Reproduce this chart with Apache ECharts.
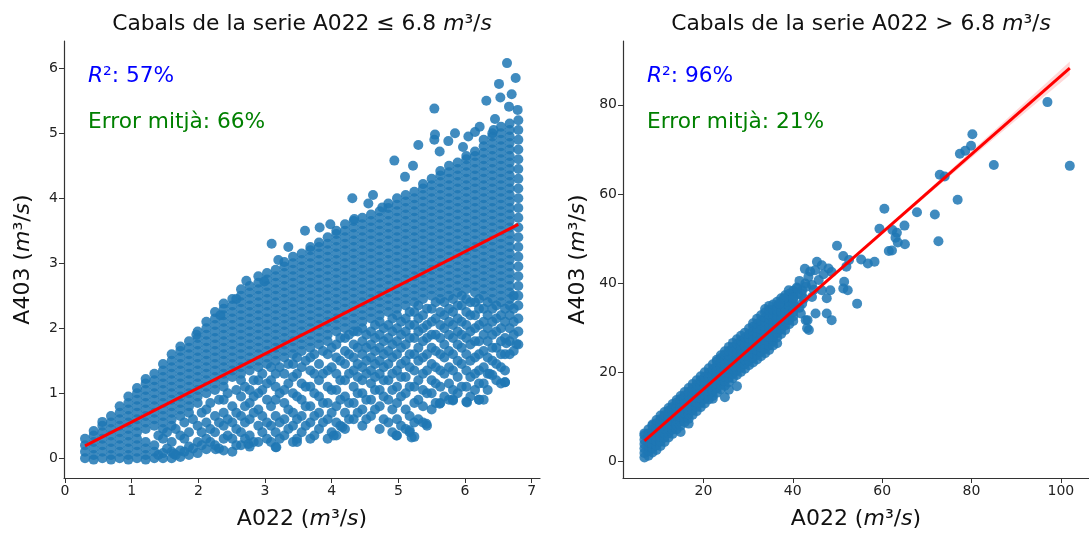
<!DOCTYPE html>
<html>
<head>
<meta charset="utf-8">
<script src="https://cdn.jsdelivr.net/npm/echarts@6/dist/echarts.min.js"></script>
<style>html,body{margin:0;padding:0;background:#fff;}</style>
</head>
<body>
<div id="main" style="width:1089px;height:535px;"></div>
<script>
// ---- dades: panell esquerre (A022 <= 6.8), punts llegits per columnes
var leftColX = [0.30, 0.43, 0.56, 0.69, 0.82, 0.95, 1.08, 1.21, 1.34, 1.47, 1.60, 1.73, 1.86, 1.99, 2.12, 2.25, 2.38, 2.51, 2.64, 2.77,
  2.90, 3.03, 3.16, 3.29, 3.42, 3.55, 3.68, 3.81, 3.94, 4.07, 4.20, 4.33, 4.46, 4.59, 4.72, 4.85, 4.98, 5.11, 5.24, 5.37,
  5.50, 5.63, 5.76, 5.89, 6.02, 6.15, 6.28, 6.41, 6.54, 6.67, 6.80];
var leftColY = [
  [0.0, 0.1, 0.2, 0.3],
  [-0.02, 0.05, 0.15, 0.25, 0.35, 0.42],
  [0.0, 0.1, 0.2, 0.3, 0.4, 0.5, 0.56],
  [-0.02, 0.05, 0.15, 0.25, 0.35, 0.45, 0.55, 0.65],
  [0.0, 0.1, 0.2, 0.3, 0.4, 0.5, 0.6, 0.7, 0.8],
  [-0.02, 0.05, 0.15, 0.25, 0.35, 0.45, 0.55, 0.65, 0.75, 0.85, 0.95],
  [0.0, 0.1, 0.2, 0.3, 0.4, 0.5, 0.6, 0.7, 0.8, 0.9, 1.0, 1.08],
  [-0.02, 0.05, 0.15, 0.25, 0.45, 0.55, 0.65, 0.75, 0.85, 0.95, 1.05, 1.15, 1.22],
  [0.0, 0.1, 0.2, 0.5, 0.6, 0.7, 0.8, 0.9, 1.0, 1.1, 1.2, 1.3],
  [0.0, 0.08, 0.3, 0.45, 0.55, 0.65, 0.75, 0.85, 0.95, 1.05, 1.15, 1.25, 1.35, 1.45],
  [0.0, 0.1, 0.25, 0.5, 0.6, 0.7, 0.8, 0.9, 1.0, 1.1, 1.2, 1.3, 1.4, 1.5, 1.6],
  [0.02, 0.12, 0.35, 0.65, 0.75, 0.85, 0.95, 1.05, 1.15, 1.25, 1.35, 1.45, 1.55, 1.65, 1.72],
  [0.05, 0.18, 0.4, 0.7, 0.8, 0.9, 1.0, 1.1, 1.2, 1.3, 1.4, 1.5, 1.6, 1.7, 1.8],
  [0.08, 0.25, 0.5, 0.85, 0.95, 1.05, 1.15, 1.25, 1.35, 1.45, 1.55, 1.65, 1.75, 1.85, 1.95],
  [0.14, 0.3, 0.55, 0.75, 1.0, 1.1, 1.2, 1.3, 1.4, 1.5, 1.6, 1.7, 1.8, 1.9, 2.0, 2.1],
  [0.2, 0.4, 0.65, 1.05, 1.15, 1.25, 1.35, 1.45, 1.55, 1.65, 1.75, 1.85, 1.95, 2.05, 2.15, 2.25],
  [0.12, 0.3, 0.5, 0.7, 0.9, 1.1, 1.2, 1.3, 1.4, 1.5, 1.6, 1.7, 1.8, 1.9, 2.0, 2.1, 2.2, 2.3, 2.38],
  [0.1, 0.3, 0.55, 0.8, 1.25, 1.35, 1.45, 1.55, 1.65, 1.75, 1.85, 1.95, 2.05, 2.15, 2.25, 2.35, 2.45],
  [0.2, 0.4, 0.65, 0.95, 1.2, 1.3, 1.4, 1.5, 1.6, 1.7, 1.8, 1.9, 2.0, 2.1, 2.2, 2.3, 2.4, 2.5, 2.6],
  [0.18, 0.35, 0.6, 0.85, 1.05, 1.35, 1.45, 1.55, 1.65, 1.75, 1.85, 1.95, 2.05, 2.15, 2.25, 2.35, 2.45, 2.55, 2.65],
  [0.25, 0.5, 0.75, 1.0, 1.2, 1.4, 1.5, 1.6, 1.7, 1.8, 1.9, 2.0, 2.1, 2.2, 2.3, 2.4, 2.5, 2.6, 2.7, 2.8],
  [0.3, 0.55, 0.9, 1.15, 1.45, 1.55, 1.65, 1.75, 1.85, 1.95, 2.05, 2.15, 2.25, 2.35, 2.45, 2.55, 2.65, 2.75, 2.85],
  [0.17, 0.4, 0.65, 0.9, 1.1, 1.3, 1.5, 1.6, 1.7, 1.8, 1.9, 2.0, 2.1, 2.2, 2.3, 2.4, 2.5, 2.6, 2.7, 2.8, 2.9],
  [0.35, 0.6, 0.85, 1.05, 1.3, 1.55, 1.65, 1.75, 1.85, 1.95, 2.05, 2.15, 2.25, 2.35, 2.45, 2.55, 2.65, 2.75, 2.85, 2.95, 3.02],
  [0.25, 0.5, 0.7, 1.0, 1.25, 1.45, 1.6, 1.7, 1.8, 1.9, 2.0, 2.1, 2.2, 2.3, 2.4, 2.5, 2.6, 2.7, 2.8, 2.9, 3.0, 3.1],
  [0.4, 0.65, 0.9, 1.15, 1.4, 1.65, 1.75, 1.85, 1.95, 2.05, 2.15, 2.25, 2.35, 2.45, 2.55, 2.65, 2.75, 2.85, 2.95, 3.05, 3.15],
  [0.3, 0.55, 0.8, 1.1, 1.35, 1.55, 1.7, 1.8, 1.9, 2.0, 2.1, 2.2, 2.3, 2.4, 2.5, 2.6, 2.7, 2.8, 2.9, 3.0, 3.1, 3.2, 3.25],
  [0.45, 0.7, 0.95, 1.2, 1.45, 1.75, 1.85, 1.95, 2.05, 2.15, 2.25, 2.35, 2.45, 2.55, 2.65, 2.75, 2.85, 2.95, 3.05, 3.15, 3.25, 3.32],
  [0.3, 0.6, 0.85, 1.1, 1.35, 1.6, 1.8, 1.9, 2.0, 2.1, 2.2, 2.3, 2.4, 2.5, 2.6, 2.7, 2.8, 2.9, 3.0, 3.1, 3.2, 3.3, 3.4],
  [0.35, 0.55, 0.8, 1.05, 1.3, 1.55, 1.75, 1.95, 2.05, 2.15, 2.25, 2.35, 2.45, 2.55, 2.65, 2.75, 2.85, 2.95, 3.05, 3.15, 3.25, 3.35, 3.45, 3.5],
  [0.45, 0.7, 0.95, 1.2, 1.45, 1.65, 1.85, 2.0, 2.1, 2.2, 2.3, 2.4, 2.5, 2.6, 2.7, 2.8, 2.9, 3.0, 3.1, 3.2, 3.3, 3.4, 3.5, 3.6],
  [0.6, 0.85, 1.1, 1.35, 1.55, 1.75, 1.95, 2.05, 2.15, 2.25, 2.35, 2.45, 2.55, 2.65, 2.75, 2.85, 2.95, 3.05, 3.15, 3.25, 3.35, 3.45, 3.55, 3.65],
  [0.5, 0.75, 1.0, 1.2, 1.4, 1.6, 1.8, 2.0, 2.1, 2.2, 2.3, 2.4, 2.5, 2.6, 2.7, 2.8, 2.9, 3.0, 3.1, 3.2, 3.3, 3.4, 3.5, 3.6, 3.7],
  [0.65, 0.9, 1.15, 1.35, 1.55, 1.75, 1.95, 2.15, 2.25, 2.35, 2.45, 2.55, 2.65, 2.75, 2.85, 2.95, 3.05, 3.15, 3.25, 3.35, 3.45, 3.55, 3.65, 3.75],
  [0.45, 0.8, 1.05, 1.3, 1.5, 1.7, 1.9, 2.1, 2.2, 2.3, 2.4, 2.5, 2.6, 2.7, 2.8, 2.9, 3.0, 3.1, 3.2, 3.3, 3.4, 3.5, 3.6, 3.7, 3.8],
  [0.55, 0.9, 1.2, 1.45, 1.65, 1.85, 2.05, 2.25, 2.35, 2.45, 2.55, 2.65, 2.75, 2.85, 2.95, 3.05, 3.15, 3.25, 3.35, 3.45, 3.55, 3.65, 3.75, 3.85, 3.92],
  [0.35, 0.6, 0.85, 1.1, 1.35, 1.6, 1.8, 2.0, 2.2, 2.3, 2.4, 2.5, 2.6, 2.7, 2.8, 2.9, 3.0, 3.1, 3.2, 3.3, 3.4, 3.5, 3.6, 3.7, 3.8, 3.9, 4.0],
  [0.45, 0.75, 1.0, 1.25, 1.5, 1.75, 1.95, 2.15, 2.35, 2.45, 2.55, 2.65, 2.75, 2.85, 2.95, 3.05, 3.15, 3.25, 3.35, 3.45, 3.55, 3.65, 3.75, 3.85, 3.95, 4.05],
  [0.33, 0.55, 0.85, 1.1, 1.35, 1.6, 1.85, 2.05, 2.25, 2.4, 2.5, 2.6, 2.7, 2.8, 2.9, 3.0, 3.1, 3.2, 3.3, 3.4, 3.5, 3.6, 3.7, 3.8, 3.9, 4.0, 4.1],
  [0.55, 0.8, 1.05, 1.3, 1.55, 1.8, 2.0, 2.2, 2.45, 2.55, 2.65, 2.75, 2.85, 2.95, 3.05, 3.15, 3.25, 3.35, 3.45, 3.55, 3.65, 3.75, 3.85, 3.95, 4.05, 4.15, 4.22],
  [0.75, 1.0, 1.2, 1.45, 1.7, 1.9, 2.1, 2.3, 2.5, 2.6, 2.7, 2.8, 2.9, 3.0, 3.1, 3.2, 3.3, 3.4, 3.5, 3.6, 3.7, 3.8, 3.9, 4.0, 4.1, 4.2, 4.3],
  [0.85, 1.1, 1.35, 1.6, 1.85, 2.05, 2.25, 2.45, 2.55, 2.65, 2.75, 2.85, 2.95, 3.05, 3.15, 3.25, 3.35, 3.45, 3.55, 3.65, 3.75, 3.85, 3.95, 4.05, 4.15, 4.25, 4.35, 4.42],
  [0.9, 1.15, 1.4, 1.65, 1.9, 2.1, 2.3, 2.5, 2.6, 2.7, 2.8, 2.9, 3.0, 3.1, 3.2, 3.3, 3.4, 3.5, 3.6, 3.7, 3.8, 3.9, 4.0, 4.1, 4.2, 4.3, 4.4, 4.5],
  [1.0, 1.25, 1.5, 1.75, 1.95, 2.15, 2.35, 2.55, 2.65, 2.75, 2.85, 2.95, 3.05, 3.15, 3.25, 3.35, 3.45, 3.55, 3.65, 3.75, 3.85, 3.95, 4.05, 4.15, 4.25, 4.35, 4.45, 4.55],
  [0.87, 1.1, 1.35, 1.6, 1.85, 2.05, 2.25, 2.45, 2.6, 2.7, 2.8, 2.9, 3.0, 3.1, 3.2, 3.3, 3.4, 3.5, 3.6, 3.7, 3.8, 3.9, 4.0, 4.1, 4.2, 4.3, 4.4, 4.5, 4.6, 4.65],
  [1.05, 1.3, 1.55, 1.8, 2.0, 2.2, 2.4, 2.55, 2.65, 2.75, 2.85, 2.95, 3.05, 3.15, 3.25, 3.35, 3.45, 3.55, 3.65, 3.75, 3.85, 3.95, 4.05, 4.15, 4.25, 4.35, 4.45, 4.55, 4.65, 4.72],
  [0.9, 1.15, 1.4, 1.65, 1.9, 2.1, 2.3, 2.5, 2.6, 2.7, 2.8, 2.9, 3.0, 3.1, 3.2, 3.3, 3.4, 3.5, 3.6, 3.7, 3.8, 3.9, 4.0, 4.1, 4.2, 4.3, 4.4, 4.5, 4.6, 4.7, 4.8, 4.9],
  [1.28, 1.5, 1.7, 1.9, 2.1, 2.3, 2.45, 2.55, 2.65, 2.75, 2.85, 2.95, 3.05, 3.15, 3.25, 3.35, 3.45, 3.55, 3.65, 3.75, 3.85, 3.95, 4.05, 4.15, 4.25, 4.35, 4.45, 4.55, 4.65, 4.75, 4.85, 4.95, 5.0],
  [1.15, 1.4, 1.6, 1.8, 2.0, 2.2, 2.4, 2.5, 2.6, 2.7, 2.8, 2.9, 3.0, 3.1, 3.2, 3.3, 3.4, 3.5, 3.6, 3.7, 3.8, 3.9, 4.0, 4.1, 4.2, 4.3, 4.4, 4.5, 4.6, 4.7, 4.8, 4.9, 5.0, 5.1],
  [1.6, 1.8, 2.0, 2.2, 2.35, 2.45, 2.55, 2.65, 2.75, 2.85, 2.95, 3.05, 3.15, 3.25, 3.35, 3.45, 3.55, 3.65, 3.75, 3.85, 3.95, 4.05, 4.15, 4.25, 4.35, 4.45, 4.55, 4.65, 4.75, 4.85, 4.95, 5.05, 5.15],
  [1.75, 1.95, 2.15, 2.35, 2.5, 2.65, 2.8, 2.95, 3.1, 3.25, 3.4, 3.55, 3.7, 3.85, 4.0, 4.15, 4.3, 4.45, 4.6, 4.75, 4.9, 5.05, 5.2]
];
// columnes intermèdies de la part baixa del núvol (sota la recta)
var leftMidX = [1.40, 1.53, 1.66, 1.79, 1.92, 2.05, 2.18, 2.31, 2.44, 2.57, 2.70, 2.83, 2.96, 3.09, 3.22, 3.35, 3.48, 3.61, 3.74, 3.87,
  4.00, 4.13, 4.26, 4.39, 4.52, 4.65, 4.78, 4.91, 5.04, 5.17, 5.30, 5.43, 5.56, 5.69, 5.82, 5.95, 6.08, 6.21, 6.34, 6.47,
  6.60, 6.73];
var leftMidY = [
  [0.05, 0.35], [0.15, 0.4], [0.05, 0.45], [0.1, 0.3, 0.55], [0.15, 0.6], [0.2, 0.4, 0.7], [0.25, 0.45, 0.85],
  [0.15, 0.55, 0.9], [0.35, 0.6, 1.0], [0.2, 0.45, 0.7, 1.05], [0.3, 0.55, 0.8, 1.1], [0.25, 0.7, 0.95, 1.2],
  [0.4, 0.65, 1.05, 1.3], [0.25, 0.5, 0.8, 1.2, 1.4], [0.3, 0.55, 1.0, 1.4], [0.45, 0.75, 1.15, 1.45],
  [0.3, 0.6, 0.95, 1.3, 1.55], [0.5, 0.8, 1.1, 1.5], [0.35, 0.65, 1.0, 1.3, 1.6], [0.55, 0.85, 1.3, 1.65],
  [0.4, 0.7, 1.05, 1.4, 1.7], [0.5, 0.9, 1.2, 1.5, 1.85], [0.6, 0.85, 1.3, 1.6, 1.9], [0.7, 1.0, 1.25, 1.45, 1.7, 1.95],
  [0.6, 0.9, 1.3, 1.5, 1.7, 1.9], [0.75, 1.05, 1.25, 1.45, 1.65, 1.85, 2.05], [0.6, 0.95, 1.2, 1.4, 1.6, 1.8, 2.0],
  [0.4, 0.75, 1.05, 1.3, 1.55, 1.75, 1.95, 2.15], [0.5, 0.95, 1.25, 1.45, 1.7, 1.9, 2.1],
  [0.4, 0.65, 1.1, 1.4, 1.6, 1.85, 2.05, 2.25], [0.6, 0.9, 1.2, 1.5, 1.7, 1.95, 2.15, 2.35],
  [0.5, 1.0, 1.35, 1.6, 1.85, 2.05, 2.3], [0.85, 1.15, 1.4, 1.65, 1.9, 2.15, 2.4], [0.95, 1.3, 1.55, 1.75, 2.0, 2.2, 2.4],
  [0.9, 1.05, 1.35, 1.6, 1.85, 2.05, 2.25, 2.45], [1.1, 1.45, 1.7, 1.9, 2.1, 2.35, 2.5], [0.95, 1.25, 1.5, 1.75, 1.95, 2.2, 2.4],
  [0.9, 1.15, 1.35, 1.6, 1.8, 2.05, 2.3, 2.45], [1.05, 1.3, 1.55, 1.8, 2.0, 2.2, 2.4], [1.2, 1.45, 1.7, 1.95, 2.15, 2.35],
  [1.17, 1.35, 1.6, 1.85, 2.1, 2.3], [1.65, 1.9, 2.1, 2.3, 2.5]
];
// punts aïllats (vores del núvol)
var leftOutX = [6.63, 6.76, 6.51, 5.54, 6.32, 6.53, 6.79, 6.66, 5.54, 5.75, 6.22, 6.43, 4.94, 4.31, 4.55, 4.76, 3.82, 3.98, 4.34, 3.35,
  3.2, 2.57, 2.33, 2.99, 1.97, 5.3, 5.55, 5.62, 5.97, 6.45, 6.05, 3.6, 3.1, 2.72, 5.1, 5.22, 4.62, 6.7, 6.15, 5.85,
  6.21, 6.03, 6.6, 6.37, 5.82, 5.62, 5.42, 5.17, 5.2, 4.97, 4.03, 4.16, 3.48, 3.17, 2.75, 2.26, 1.63, 6.77, 6.62];
var leftOutY = [6.08, 5.85, 5.76, 5.38, 5.5, 5.55, 5.36, 5.41, 4.9, 4.88, 5.1, 5.05, 4.58, 4.0, 3.92, 3.86, 3.55, 3.6, 3.68, 3.25,
  3.05, 2.45, 2.2, 2.72, 1.9, 4.82, 4.98, 4.72, 4.79, 5.22, 4.95, 3.5, 3.3, 2.73, 4.33, 4.5, 4.05, 5.6, 5.02, 5.0,
  0.9, 0.86, 1.17, 1.3, 0.89, 0.84, 0.53, 0.43, 0.32, 0.35, 0.35, 0.48, 0.25, 0.17, 0.22, 0.14, 0.07, 1.76, 1.77];
var leftRegX = [0.3, 6.8];
var leftRegY = [0.19, 3.6];

// ---- dades: panell dret (A022 > 6.8)
var rightColX = [6.8, 7.7, 8.6, 9.5, 10.4, 11.3, 12.2, 13.1, 14.0, 14.9, 15.8, 16.7, 17.6, 18.5, 19.4, 20.3, 21.2, 22.1, 23.0, 23.9,
  24.8, 25.7, 26.6, 27.5, 28.4, 29.3, 30.2, 31.1, 32.0, 32.9, 33.8, 34.7, 35.6, 36.5, 37.4, 38.3, 39.2, 40.1];
var rightColY = [
  [0.9, 1.9, 2.9, 3.9, 4.9, 5.9, 6.3],
  [1.3, 2.3, 3.3, 4.3, 5.3, 6.3, 7.2],
  [2.0, 3.0, 4.0, 5.0, 6.0, 7.0, 8.0, 8.3],
  [2.6, 3.6, 4.6, 5.6, 6.6, 7.6, 8.6, 9.3],
  [3.5, 4.5, 5.5, 6.5, 7.5, 8.5, 9.5, 10.3],
  [4.4, 5.4, 6.4, 7.4, 8.4, 9.4, 10.4, 11.1],
  [5.4, 6.4, 7.4, 8.4, 9.4, 10.4, 11.4, 12.0],
  [6.2, 7.2, 8.2, 9.2, 10.2, 11.2, 12.2, 12.9],
  [7.2, 8.2, 9.2, 10.2, 11.2, 12.2, 13.2, 13.8],
  [6.6, 8.0, 9.0, 10.0, 11.0, 12.0, 13.0, 14.0, 14.7],
  [8.8, 9.8, 10.8, 11.8, 12.8, 13.8, 14.8, 15.6],
  [8.5, 9.6, 10.6, 11.6, 12.6, 13.6, 14.6, 15.6, 16.5],
  [10.5, 11.5, 12.5, 13.5, 14.5, 15.5, 16.5, 17.4],
  [11.3, 12.3, 13.3, 14.3, 15.3, 16.3, 17.3, 18.2],
  [12.2, 13.2, 14.2, 15.2, 16.2, 17.2, 18.2, 19.1],
  [13.0, 14.0, 15.0, 16.0, 17.0, 18.0, 19.0, 20.0],
  [13.9, 14.9, 15.9, 16.9, 17.9, 18.9, 19.9, 20.9],
  [14.1, 14.7, 15.7, 16.7, 17.7, 18.7, 19.7, 20.7, 21.8],
  [15.4, 16.4, 17.4, 18.4, 19.4, 20.4, 21.4, 22.4, 22.8],
  [16.2, 17.2, 18.2, 19.2, 20.2, 21.2, 22.2, 23.2, 23.8],
  [14.4, 17.0, 18.0, 19.0, 20.0, 21.0, 22.0, 23.0, 24.0, 24.7],
  [16.1, 17.8, 18.8, 19.8, 20.8, 21.8, 22.8, 23.8, 24.8, 25.7],
  [18.7, 19.7, 20.7, 21.7, 22.7, 23.7, 24.7, 25.7, 26.6],
  [16.9, 19.4, 20.4, 21.4, 22.4, 23.4, 24.4, 25.4, 26.4, 27.4],
  [20.1, 21.1, 22.1, 23.1, 24.1, 25.1, 26.1, 27.1, 28.2],
  [20.8, 21.8, 22.8, 23.8, 24.8, 25.8, 26.8, 27.8, 28.9],
  [21.6, 22.6, 23.6, 24.6, 25.6, 26.6, 27.6, 28.6, 29.8],
  [22.2, 23.2, 24.2, 25.2, 26.2, 27.2, 28.2, 29.2, 30.2, 31.0],
  [22.9, 23.9, 24.9, 25.9, 26.9, 27.9, 28.9, 29.9, 30.9, 32.0],
  [23.6, 24.6, 25.6, 26.6, 27.6, 28.6, 29.6, 30.6, 31.6, 32.8],
  [24.3, 25.3, 26.3, 27.3, 28.3, 29.3, 30.3, 31.3, 32.3, 33.4, 34.2],
  [25.0, 26.0, 27.0, 28.0, 29.0, 30.0, 31.0, 32.0, 33.0, 34.0, 34.9],
  [26.0, 27.0, 28.0, 29.0, 30.0, 31.0, 32.0, 33.0, 34.0, 35.2],
  [26.5, 27.8, 28.8, 29.8, 30.8, 31.8, 32.8, 33.8, 34.8, 35.8],
  [28.6, 29.6, 30.6, 31.6, 32.6, 33.6, 34.6, 35.6, 36.6],
  [29.5, 30.5, 31.5, 32.5, 33.5, 34.5, 35.5, 36.5, 37.3],
  [30.8, 31.8, 32.8, 33.8, 34.8, 35.8, 36.8, 37.6],
  [31.5, 32.5, 33.5, 34.5, 35.5, 36.5, 37.5, 38.3]
];
var rightOutX = [97.0, 102.0, 80.2, 79.9, 78.6, 77.4, 85.0, 72.9, 74.0, 76.9, 60.5, 67.8, 71.8, 72.6, 59.4, 62.3, 63.3, 65.0, 63.0, 63.5,
  65.1, 61.5, 62.2, 49.9, 51.3, 52.6, 55.3, 56.8, 58.3, 52.0, 54.4, 51.5, 52.3, 51.3, 48.7, 47.6, 45.1, 43.3, 41.8, 46.5,
  45.0, 43.5, 42.8, 48.0, 48.7, 45.8, 44.3, 42.1, 44.3, 47.6, 48.4, 46.5, 39.1, 38.0, 37.0, 40.6, 42.1, 45.4, 41.2, 42.5,
  40.2, 40.9, 42.7, 43.9, 46.9, 44.7, 41.5, 42.9, 43.2, 43.6, 41.5, 42.0, 41.0, 43.0];
var rightOutY = [80.6, 66.3, 73.4, 70.8, 69.7, 69.0, 66.5, 64.3, 63.9, 58.7, 56.7, 55.9, 55.4, 49.4, 52.2, 51.9, 51.3, 52.9, 50.2, 49.1,
  48.7, 47.2, 47.3, 48.4, 46.1, 45.2, 45.3, 44.4, 44.8, 43.7, 35.4, 40.3, 38.4, 38.8, 31.7, 33.2, 33.2, 31.7, 33.2, 44.0,
  42.9, 41.4, 39.9, 43.3, 42.5, 40.7, 39.6, 38.4, 36.9, 36.6, 38.4, 38.4, 38.4, 36.6, 35.4, 34.7, 35.4, 44.8, 37.5, 36.5,
  36.8, 39.0, 43.2, 42.6, 42.0, 38.5, 40.5, 31.7, 29.9, 29.5, 34.5, 37.5, 38.8, 39.2];
var rightRegX = [6.8, 102.0];
var rightRegY = [4.6, 88.2];
// interval de confiança de la recta (només visible a l'extrem superior)
var rightCiX = [55, 70, 85, 102.0];
var rightCiLo = [46.7, 59.6, 72.4, 86.7];
var rightCiHi = [47.1, 60.6, 74.2, 89.7];

var leftXTicks = [0, 1, 2, 3, 4, 5, 6, 7];
var leftYTicks = [0, 1, 2, 3, 4, 5, 6];
var rightXTicks = [20, 40, 60, 80, 100];
var rightYTicks = [0, 20, 40, 60, 80];

var titles = ['Cabals de la serie A022 ≤ 6.8 ', 'Cabals de la serie A022 > 6.8 '];
var r2Text = ['57%', '96%'];
var errText = ['66%', '21%'];

// ---- construcció
function colsToPoints(colX, colY, pts) {
  for (var i = 0; i < colX.length; i++) {
    for (var j = 0; j < colY[i].length; j++) pts.push([colX[i], colY[i][j]]);
  }
  return pts;
}
function pairs(xs, ys) {
  return xs.map(function (x, i) { return [x, ys[i]]; });
}

var leftPts = colsToPoints(leftMidX, leftMidY, colsToPoints(leftColX, leftColY, [])).concat(pairs(leftOutX, leftOutY));
var rightPts = colsToPoints(rightColX, rightColY, []).concat(pairs(rightOutX, rightOutY));

var FONT = 'DejaVu Sans';
var AXIS_COLOR = '#333';

function valueAxis(grid, min, max, ticks, name, gap) {
  return {
    type: 'value', gridIndex: grid, min: min, max: max,
    name: name, nameLocation: 'middle', nameGap: gap,
    nameTextStyle: { fontFamily: FONT, fontSize: 22, color: '#111',
      rich: {
        n: { fontFamily: FONT, fontSize: 22, color: '#111' },
        i: { fontFamily: FONT, fontSize: 22, fontStyle: 'italic', color: '#111' }
      } },
    axisLine: { show: true, onZero: false, lineStyle: { color: AXIS_COLOR, width: 1.2 } },
    axisTick: { show: true, customValues: ticks, length: 5, lineStyle: { color: AXIS_COLOR, width: 1 } },
    axisLabel: { customValues: ticks, fontFamily: FONT, fontSize: 14, color: '#222', margin: 6 },
    splitLine: { show: false }
  };
}

var chart = echarts.init(document.getElementById('main'), null, { renderer: 'canvas' });

var xlabel = '{n|A022 (}{i|m}{n|³/}{i|s}{n|)}';
var ylabel = '{n|A403 (}{i|m}{n|³/}{i|s}{n|)}';

function titleText(i, cx) {
  return {
    type: 'text', x: cx, y: 24,
    style: {
      text: '{t|' + titles[i] + '}{i|m}{t|³/}{i|s}',
      align: 'center', verticalAlign: 'middle',
      rich: {
        t: { fontFamily: FONT, fontSize: 21.8, fill: '#111' },
        i: { fontFamily: FONT, fontSize: 21.8, fontStyle: 'italic', fill: '#111' }
      }
    }
  };
}
function annot(i, x) {
  return [{
    type: 'text', x: x, y: 76,
    style: {
      text: '{i|R}{t|²: ' + r2Text[i] + '}', align: 'left', verticalAlign: 'middle',
      rich: {
        t: { fontFamily: FONT, fontSize: 21.7, fill: '#0000ff' },
        i: { fontFamily: FONT, fontSize: 21.7, fontStyle: 'italic', fill: '#0000ff' }
      }
    }
  }, {
    type: 'text', x: x, y: 122,
    style: { text: 'Error mitjà: ' + errText[i], align: 'left', verticalAlign: 'middle',
      fontFamily: FONT, fontSize: 21.7, fill: '#008000' }
  }];
}

chart.setOption({
  animation: false,
  backgroundColor: '#fff',
  grid: [
    { left: 64, top: 41, width: 476, height: 437 },
    { left: 623, top: 41, width: 477, height: 437 }
  ],
  xAxis: [
    valueAxis(0, -0.015, 7.125, leftXTicks, xlabel, 30),
    valueAxis(1, 2.0, 106.3, rightXTicks, xlabel, 30)
  ],
  yAxis: [
    valueAxis(0, -0.303, 6.42, leftYTicks, ylabel, 30),
    valueAxis(1, -3.7, 94.3, rightYTicks, ylabel, 34)
  ],
  graphic: [titleText(0, 302), titleText(1, 861)].concat(annot(0, 88), annot(1, 647)),
  series: [
    {
      type: 'scatter', xAxisIndex: 0, yAxisIndex: 0, symbolSize: 10,
      itemStyle: { color: '#1f77b4', opacity: 0.85 },
      data: leftPts
    },
    {
      type: 'line', xAxisIndex: 0, yAxisIndex: 0, symbol: 'none', z: 4,
      lineStyle: { color: '#ff0000', width: 3 },
      data: pairs(leftRegX, leftRegY)
    },
    {
      type: 'scatter', xAxisIndex: 1, yAxisIndex: 1, symbolSize: 10,
      itemStyle: { color: '#1f77b4', opacity: 0.85 },
      data: rightPts
    },
    {
      type: 'custom', xAxisIndex: 1, yAxisIndex: 1, z: 3, clip: true,
      data: [0],
      renderItem: function (params, api) {
        var pts = [], i;
        for (i = 0; i < rightCiX.length; i++) pts.push(api.coord([rightCiX[i], rightCiHi[i]]));
        for (i = rightCiX.length - 1; i >= 0; i--) pts.push(api.coord([rightCiX[i], rightCiLo[i]]));
        return { type: 'polygon', shape: { points: pts }, style: { fill: 'rgba(255,0,0,0.15)' } };
      }
    },
    {
      type: 'line', xAxisIndex: 1, yAxisIndex: 1, symbol: 'none', z: 4,
      lineStyle: { color: '#ff0000', width: 3 },
      data: pairs(rightRegX, rightRegY)
    }
  ]
});
</script>
</body>
</html>
